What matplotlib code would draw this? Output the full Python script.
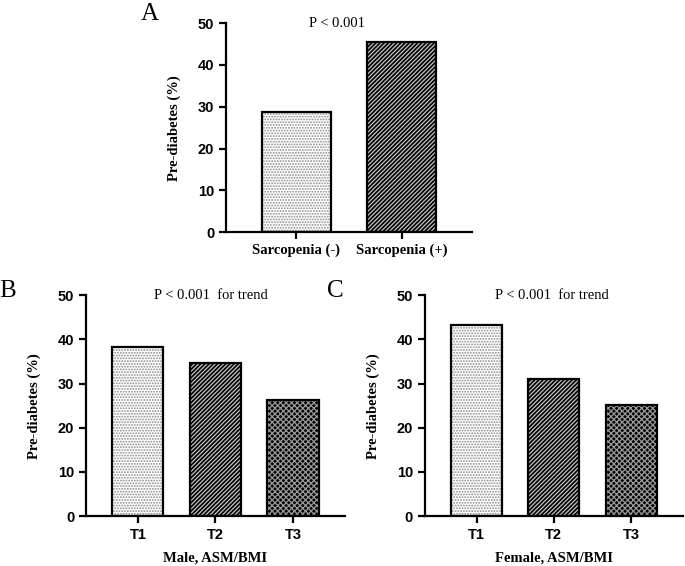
import numpy as np
import matplotlib.pyplot as plt

# values (prevalence of pre-diabetes, %)
sarc_labels = ['Sarcopenia (-)', 'Sarcopenia (+)']
sarc_values = [28.7, 45.4]

tert_labels = ['T1', 'T2', 'T3']
male_values = [38.3, 34.7, 26.3]
female_values = [43.2, 31.0, 25.1]

y_ticks = [0, 10, 20, 30, 40, 50]

plt.rcParams['hatch.linewidth'] = 0.9

serif = 'Liberation Serif'
sans = 'Liberation Sans'

# (facecolor, hatchcolor, hatch) for each bar style
styles = [('white', '#8a8a8a', '......'),
          ('black', '#c4c4c4', '////////'),
          ('black', '#9a9a9a', 'xxxxxx')]


def draw_panel(ax, labels, values, p_text, p_x, xlabel=None):
    x = np.arange(len(labels))
    for i, v in enumerate(values):
        fc, hc, h = styles[i]
        ax.bar(x[i], v, width=0.66, color=fc, edgecolor=hc, hatch=h, linewidth=0)
        ax.bar(x[i], v, width=0.66, fill=False, edgecolor='black', linewidth=1.6)
    ax.set_xlim(-0.67, len(labels) - 1 + 0.67)
    ax.set_ylim(0, 50)
    ax.set_yticks(y_ticks)
    ax.set_xticks(x)
    ax.set_xticklabels(labels)
    for s in ['top', 'right']:
        ax.spines[s].set_visible(False)
    for s in ['left', 'bottom']:
        ax.spines[s].set_linewidth(1.6)
    ax.tick_params(width=1.6, length=5, direction='out', pad=3.5)
    for lab in ax.get_yticklabels():
        lab.set_fontfamily(sans)
        lab.set_fontweight('bold')
        lab.set_fontsize(10.5)
    for lab in ax.get_xticklabels():
        lab.set_fontfamily(serif if xlabel is None else sans)
        lab.set_fontweight('bold')
        lab.set_fontsize(10.5)
    ax.set_ylabel('Pre-diabetes (%)', fontfamily=serif, fontweight='bold',
                  fontsize=10.5, labelpad=12)
    if xlabel:
        ax.set_xlabel(xlabel, fontfamily=serif, fontweight='bold',
                      fontsize=10.5, labelpad=7)
    ax.text(p_x, 50, p_text, ha='center', va='center', fontfamily=serif, fontsize=10.5)


fig = plt.figure(figsize=(6.85, 5.66), dpi=100)

axA = fig.add_axes([0.330, 0.590, 0.359, 0.369])
draw_panel(axA, sarc_labels, sarc_values, 'P < 0.001', 0.39)

axB = fig.add_axes([0.1255, 0.0883, 0.378, 0.390])
draw_panel(axB, tert_labels, male_values, 'P < 0.001  for trend', 0.94, 'Male, ASM/BMI')

axC = fig.add_axes([0.620, 0.0883, 0.377, 0.390])
draw_panel(axC, tert_labels, female_values, 'P < 0.001  for trend', 0.97, 'Female, ASM/BMI')

fig.text(141 / 685, 1 - 3 / 566, 'A', fontfamily=serif, fontsize=18, va='top', ha='left')
fig.text(-1 / 685, 1 - 280 / 566, 'B', fontfamily=serif, fontsize=18, va='top', ha='left')
fig.text(327 / 685, 1 - 280 / 566, 'C', fontfamily=serif, fontsize=18, va='top', ha='left')

fig.savefig('out.png', dpi=100)
